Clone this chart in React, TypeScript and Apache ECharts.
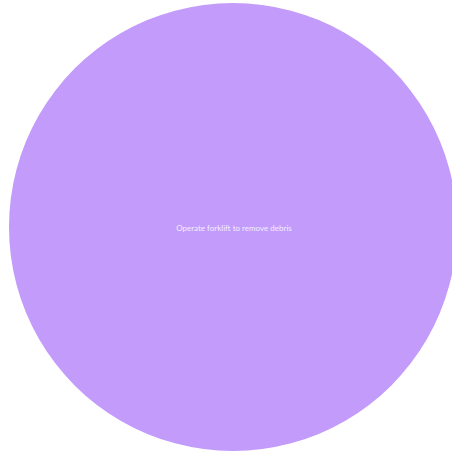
import React, { useEffect, useRef } from "react";
import * as echarts from "echarts";

const categories = ["Operate forklift to remove debris"];
const values = [1];
const colors = ["#c29bfb"];

export default function App() {
  const ref = useRef<HTMLDivElement>(null);
  useEffect(() => {
    if (!ref.current) return;
    const chart = echarts.init(ref.current, null, { renderer: "svg" });
    chart.setOption({
      animation: false,
      backgroundColor: "#ffffff",
      series: [
        {
          type: "pie",
          center: [233, 227],
          radius: [0, 224],
          silent: true,
          label: {
            show: true,
            position: "center",
            color: "#f4efff",
            fontSize: 8,
            fontFamily: "Lato",
            offset: [1, 1],
          },
          labelLine: { show: false },
          itemStyle: { borderWidth: 0 },
          data: categories.map((c, i) => ({
            name: c,
            value: values[i],
            itemStyle: { color: colors[i] },
          })),
        },
      ],
    });
    return () => chart.dispose();
  }, []);
  return (
    <div
      ref={ref}
      style={{ position: "fixed", left: 0, top: 0, width: 452, height: 455 }}
    />
  );
}
